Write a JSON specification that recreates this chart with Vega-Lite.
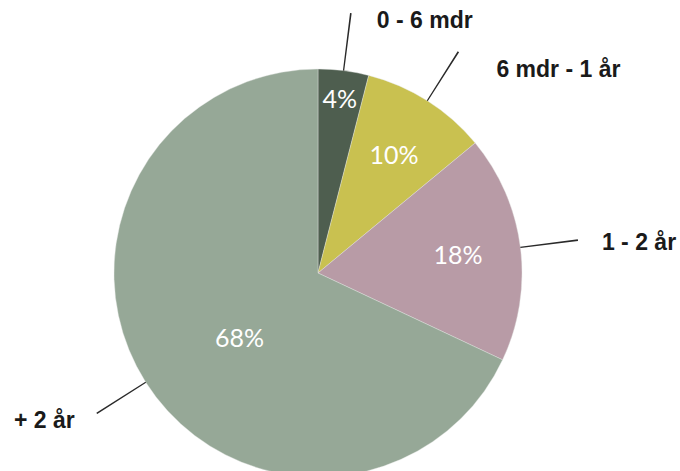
{
  "$schema": "https://vega.github.io/schema/vega-lite/v6.json",
  "width": 636,
  "height": 396,
  "autosize": {"type": "none"},
  "padding": {"left": 0, "top": 75, "right": 44, "bottom": 0},
  "background": "white",
  "config": {"view": {"stroke": null}},
  "data": {
    "values": [
      {"kategori": "0 - 6 mdr", "andel": 4, "rank": 1},
      {"kategori": "6 mdr - 1 år", "andel": 10, "rank": 2},
      {"kategori": "1 - 2 år", "andel": 18, "rank": 3},
      {"kategori": "+ 2 år", "andel": 68, "rank": 4}
    ]
  },
  "transform": [
    {"window": [{"op": "sum", "field": "andel", "as": "kum"}], "sort": [{"field": "rank"}], "frame": [null, 0]},
    {"calculate": "datum.kum - datum.andel / 2", "as": "midt"},
    {"calculate": "datum.midt - 0.05", "as": "l0"},
    {"calculate": "datum.midt + 0.05", "as": "l1"},
    {"calculate": "datum.andel + '%'", "as": "pct"}
  ],
  "layer": [
    {
      "mark": {"type": "arc", "radius": 204, "stroke": "#e3e6e3", "strokeWidth": 0.4},
      "encoding": {
        "theta": {"field": "andel", "type": "quantitative", "stack": true, "scale": {"domain": [0, 100]}},
        "order": {"field": "rank", "type": "quantitative"},
        "color": {
          "field": "kategori",
          "type": "nominal",
          "scale": {
            "domain": ["0 - 6 mdr", "6 mdr - 1 år", "1 - 2 år", "+ 2 år"],
            "range": ["#4e5e4f", "#c9c150", "#b89ba6", "#96a897"]
          },
          "legend": null
        }
      }
    },
    {
      "mark": {"type": "arc", "radius": 262, "radius2": 204, "color": "#2a2a2a"},
      "encoding": {
        "theta": {"field": "l0", "type": "quantitative", "stack": null},
        "theta2": {"field": "l1"}
      }
    },
    {
      "transform": [{"filter": "datum.rank == 1"}],
      "mark": {"type": "text", "radius": 174, "font": "Lato", "fontSize": 25, "color": "white", "align": "center", "baseline": "middle"},
      "encoding": {
        "theta": {"field": "midt", "type": "quantitative", "stack": null},
        "text": {"field": "pct"}
      }
    },
    {
      "transform": [{"filter": "datum.rank == 2 || datum.rank == 3"}],
      "mark": {"type": "text", "radius": 140, "dx": 1, "dy": 1, "font": "Lato", "fontSize": 25, "color": "white", "align": "center", "baseline": "middle"},
      "encoding": {
        "theta": {"field": "midt", "type": "quantitative", "stack": null},
        "text": {"field": "pct"}
      }
    },
    {
      "transform": [{"filter": "datum.rank == 4"}],
      "mark": {"type": "text", "radius": 100, "dx": 6, "dy": 12, "font": "Lato", "fontSize": 25, "color": "white", "align": "center", "baseline": "middle"},
      "encoding": {
        "theta": {"field": "midt", "type": "quantitative", "stack": null},
        "text": {"field": "pct"}
      }
    },
    {
      "transform": [{"filter": "datum.rank == 1"}],
      "mark": {"type": "text", "radius": 262, "dx": 26, "dy": 8, "font": "Liberation Sans", "fontWeight": "bold", "fontSize": 23, "color": "#1a1a1a", "align": "left", "baseline": "middle"},
      "encoding": {
        "theta": {"field": "midt", "type": "quantitative", "stack": null},
        "text": {"field": "kategori"}
      }
    },
    {
      "transform": [{"filter": "datum.rank == 2"}],
      "mark": {"type": "text", "radius": 262, "dx": 38, "dy": 18, "font": "Liberation Sans", "fontWeight": "bold", "fontSize": 23, "color": "#1a1a1a", "align": "left", "baseline": "middle"},
      "encoding": {
        "theta": {"field": "midt", "type": "quantitative", "stack": null},
        "text": {"field": "kategori"}
      }
    },
    {
      "transform": [{"filter": "datum.rank == 3"}],
      "mark": {"type": "text", "radius": 262, "dx": 24, "dy": 3, "font": "Liberation Sans", "fontWeight": "bold", "fontSize": 23, "color": "#1a1a1a", "align": "left", "baseline": "middle"},
      "encoding": {
        "theta": {"field": "midt", "type": "quantitative", "stack": null},
        "text": {"field": "kategori"}
      }
    },
    {
      "transform": [{"filter": "datum.rank == 4"}],
      "mark": {"type": "text", "radius": 262, "dx": -22, "dy": 8, "font": "Liberation Sans", "fontWeight": "bold", "fontSize": 23, "color": "#1a1a1a", "align": "right", "baseline": "middle"},
      "encoding": {
        "theta": {"field": "midt", "type": "quantitative", "stack": null},
        "text": {"field": "kategori"}
      }
    }
  ]
}
